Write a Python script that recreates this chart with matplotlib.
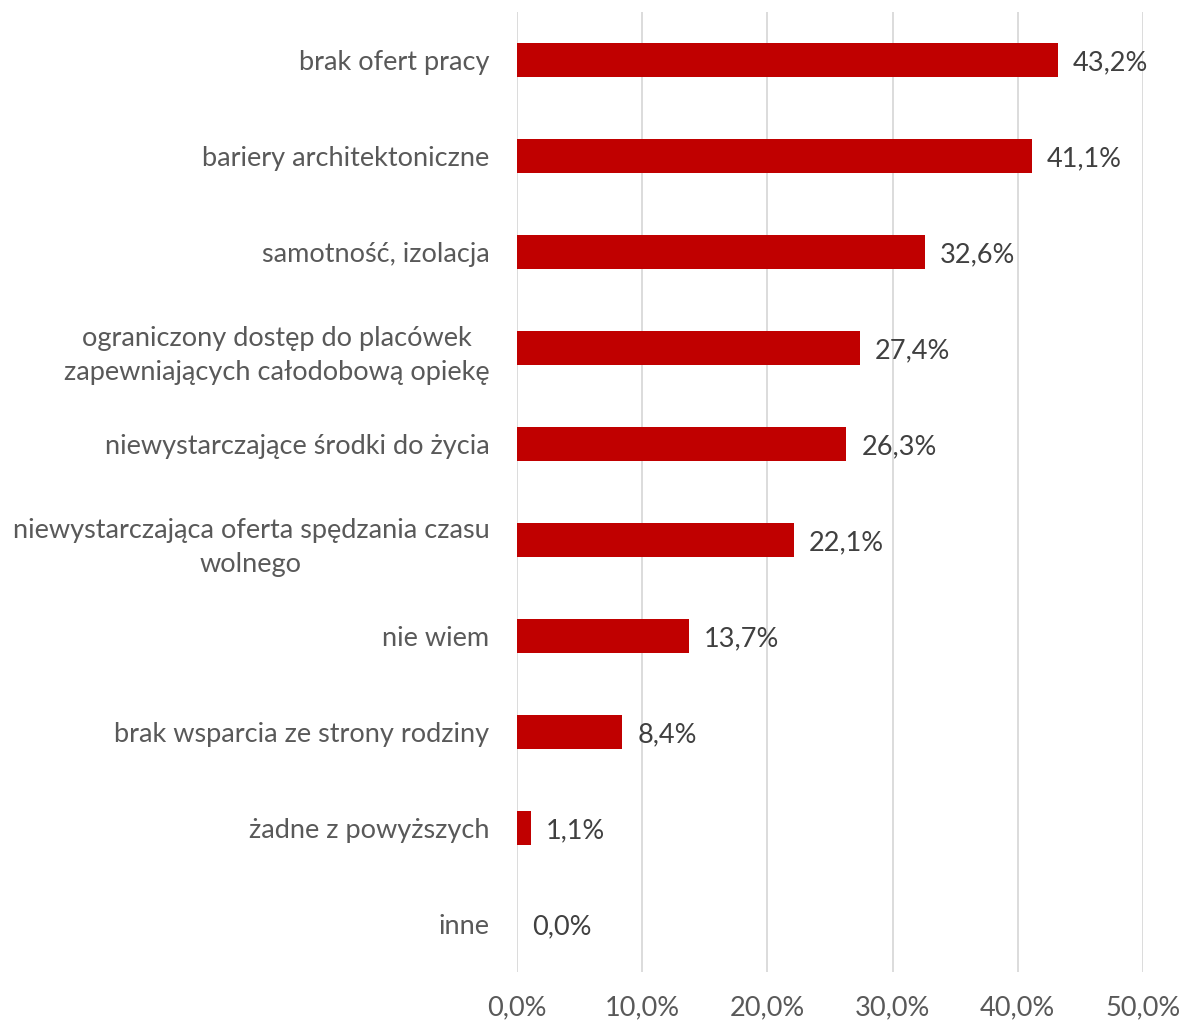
import matplotlib.pyplot as plt

categories = [
    "brak ofert pracy",
    "bariery architektoniczne",
    "samotność, izolacja",
    "ograniczony dostęp do placówek\nzapewniających całodobową opiekę",
    "niewystarczające środki do życia",
    "niewystarczająca oferta spędzania czasu\nwolnego",
    "nie wiem",
    "brak wsparcia ze strony rodziny",
    "żadne z powyższych",
    "inne",
]
values = [43.2, 41.1, 32.6, 27.4, 26.3, 22.1, 13.7, 8.4, 1.1, 0.0]
xticks = [0, 10, 20, 30, 40, 50]

plt.rcParams['font.family'] = ['Lato', 'DejaVu Sans']

fig = plt.figure(figsize=(11.81, 10.21), dpi=100)
ax = fig.add_axes([0.4378, 0.048, 0.530, 0.940])

pos = list(range(len(categories)))
ax.barh(pos, values, height=0.35, color='#C00000', zorder=3)
ax.set_ylim(len(categories) - 0.5, -0.5)
ax.set_xlim(0, 50)

for p, v in zip(pos, values):
    ax.text(v + 1.2, p, f"{v:.1f}%".replace('.', ','), va='center_baseline', ha='left',
            fontsize=19.5, color='#404040')

ax.set_yticks(pos)
ax.set_yticklabels(categories, fontsize=19.5, color='#595959', linespacing=1.45)
for lbl in ax.get_yticklabels():
    lbl.set_multialignment('center')
ax.set_xticks(xticks)
ax.set_xticklabels([f"{x:.1f}%".replace('.', ',') for x in xticks], fontsize=19.5, color='#595959')
ax.tick_params(axis='y', length=0, pad=20)
ax.tick_params(axis='x', length=0, pad=17)

ax.grid(axis='x', color='#D9D9D9', linewidth=1.3, zorder=0)
for s in ax.spines.values():
    s.set_visible(False)

fig.savefig("out.png", dpi=100)
